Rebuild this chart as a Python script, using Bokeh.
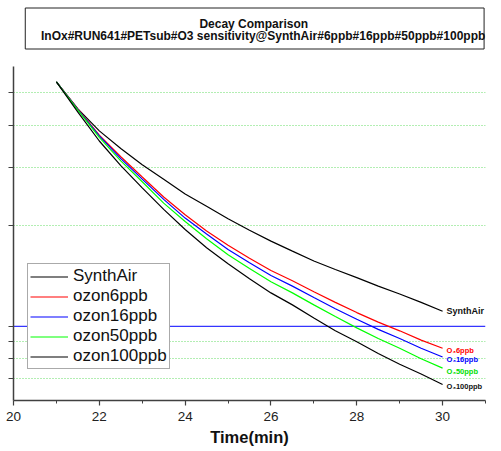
from bokeh.plotting import figure
from bokeh.layouts import column
from bokeh.models import (Range1d, FixedTicker, Span, ColumnDataSource, Legend,
                          LegendItem, CustomJSTickFormatter)
from bokeh.core.properties import value
from bokeh.embed import file_html
from bokeh.resources import INLINE

TITLE = "Decay Comparison"
SUBTITLE = "InOx#RUN641#PETsub#O3 sensitivity@SynthAir#6ppb#16ppb#50ppb#100ppb"
X_LABEL = "Time(min)"

time_min = [21.0, 21.5, 22.0, 22.5, 23.0, 23.5, 24.0, 24.5, 25.0, 25.5,
            26.0, 26.5, 27.0, 27.5, 28.0, 28.5, 29.0, 29.5, 30.0]

synthair = [5.40, 4.48, 3.85, 3.41, 3.05, 2.76, 2.49, 2.29, 2.10, 1.94,
            1.80, 1.68, 1.57, 1.48, 1.40, 1.32, 1.25, 1.18, 1.11]
ozon6ppb = [5.40, 4.47, 3.74, 3.22, 2.80, 2.44, 2.16, 1.93, 1.75, 1.60,
            1.47, 1.37, 1.27, 1.18, 1.10, 1.03, 0.97, 0.91, 0.86]
ozon16ppb = [5.40, 4.46, 3.72, 3.18, 2.76, 2.40, 2.11, 1.89, 1.70, 1.55,
             1.42, 1.32, 1.22, 1.13, 1.05, 0.98, 0.92, 0.86, 0.81]
ozon50ppb = [5.40, 4.44, 3.68, 3.13, 2.71, 2.34, 2.06, 1.83, 1.64, 1.49,
             1.36, 1.26, 1.16, 1.07, 0.99, 0.92, 0.86, 0.80, 0.75]
ozon100ppb = [5.40, 4.38, 3.59, 3.03, 2.60, 2.24, 1.95, 1.72, 1.54, 1.39,
              1.26, 1.16, 1.06, 0.97, 0.90, 0.83, 0.77, 0.72, 0.67]

series_names = ["SynthAir", "ozon6ppb", "ozon16ppb", "ozon50ppb", "ozon100ppb"]
series_values = [synthair, ozon6ppb, ozon16ppb, ozon50ppb, ozon100ppb]
series_colors = ["black", "red", "blue", "lime", "black"]
end_labels = ["SynthAir", "O\u20836ppb", "O\u208316ppb", "O\u208350ppb", "O\u2083100ppb"]
label_colors = ["#111111", "#ff0000", "#0000ff", "#00e000", "#111111"]

x_ticks = [20, 22, 24, 26, 28, 30]
x_minor = [21, 23, 25, 27, 29, 31]
y_ticks = [0.7, 0.8, 0.9, 1, 2, 3, 4, 5]
y_grid = [0.7, 0.8, 0.9, 2, 3, 4, 5]
reference_level = 1

FONT = value("Liberation Sans")

# ---- title panel ----
pt = figure(width=501, height=51, x_range=Range1d(0, 501), y_range=Range1d(51, 0),
            toolbar_location=None, output_backend="svg", x_axis_location=None,
            y_axis_location=None, min_border=0, outline_line_color=None)
pt.grid.visible = False
pt.quad(left=12.5, right=499.5, top=7.5, bottom=48.5, fill_color=None,
        line_color="#222222", line_width=1)
pt.text(x=[255, 265], y=[23, 35.5], text=[TITLE, SUBTITLE], text_font=FONT,
        text_font_style="bold", text_font_size="12px", text_align="center",
        text_baseline="middle", text_color="#111111")

# ---- main chart ----
p = figure(width=501, height=400, x_range=Range1d(20, 31), y_range=Range1d(0.6, 6),
           y_axis_type="log", toolbar_location=None, output_backend="svg",
           min_border_left=13, min_border_right=16, min_border_top=15,
           min_border_bottom=51, outline_line_color=None)

p.xgrid.visible = False
p.ygrid.ticker = FixedTicker(ticks=y_grid)
p.ygrid.grid_line_color = "#66dd66"
p.ygrid.grid_line_dash = "1 2"
p.ygrid.grid_line_width = 1

p.add_layout(Span(location=reference_level, dimension="width", line_color="#3535ff",
                  line_width=1.2, level="underlay"))

items = []
for name, vals, col in zip(series_names, series_values, series_colors):
    r = p.line(time_min, vals, line_color=col, line_width=1.2)
    items.append(LegendItem(label=name, renderers=[r]))

src = ColumnDataSource(dict(
    x=[time_min[-1]] * len(series_values),
    y=[v[-1] for v in series_values],
    t=end_labels, c=label_colors,
    fs=["9px", "7.5px", "7.5px", "7.5px", "7.5px"],
    yo=[0, 2, 3, 3, 2],
))
p.text(x="x", y="y", text="t", text_color="c", text_font_size="fs", y_offset="yo",
       x_offset=4, source=src, text_font=FONT, text_font_style="bold",
       text_baseline="middle", text_align="left")

# axes
p.xaxis.ticker = FixedTicker(ticks=x_ticks, minor_ticks=x_minor)
p.xaxis.axis_label = X_LABEL
p.xaxis.axis_label_text_font = "Liberation Sans"
p.xaxis.axis_label_text_font_style = "bold"
p.xaxis.axis_label_text_font_size = "16.5px"
p.xaxis.axis_label_text_color = "#111111"
p.xaxis.axis_label_standoff = 4
p.xaxis.major_label_text_font = "Liberation Sans"
p.xaxis.major_label_text_font_size = "13.5px"
p.xaxis.major_label_text_color = "#222222"
p.xaxis.major_label_standoff = 6
p.xaxis.major_tick_in = 0
p.xaxis.major_tick_out = 5
p.xaxis.minor_tick_in = 0
p.xaxis.minor_tick_out = 3

p.yaxis.ticker = FixedTicker(ticks=y_ticks, minor_ticks=[])
p.yaxis.formatter = CustomJSTickFormatter(code="return '';")
p.yaxis.major_label_standoff = 0
p.yaxis.major_tick_in = 0
p.yaxis.major_tick_out = 5

for ax in (p.xaxis, p.yaxis):
    ax.axis_line_color = "#404040"
    ax.axis_line_width = 1.5
    ax.major_tick_line_color = "#404040"
    ax.major_tick_line_width = 1.2
    ax.minor_tick_line_color = "#404040"

p.yaxis.minor_tick_line_color = None

lg = Legend(items=items, location=(14, 31))
lg.label_text_font = "Liberation Sans"
lg.label_text_font_size = "17px"
lg.label_text_color = "#111111"
lg.border_line_color = "#555555"
lg.border_line_width = 1
lg.padding = 2
lg.spacing = 0
lg.margin = 0
lg.glyph_width = 38
lg.glyph_height = 19
lg.label_height = 19
lg.label_standoff = 5
lg.background_fill_alpha = 1
p.add_layout(lg, "center")

layout = column(pt, p, spacing=0)
open("out.html", "w").write(file_html(layout, INLINE))
